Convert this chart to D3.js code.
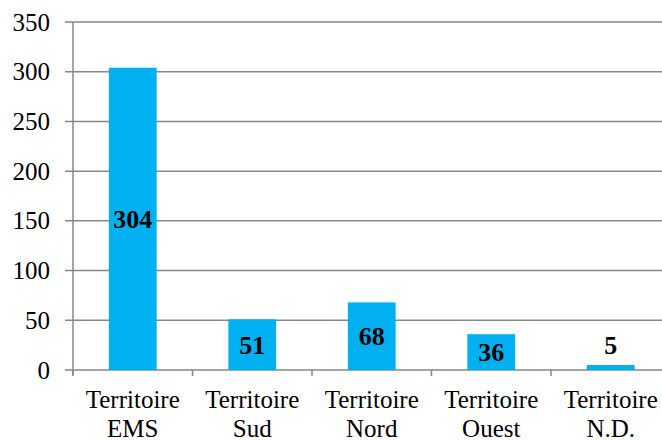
<!DOCTYPE html>
<html><head><meta charset="utf-8">
<script src="https://cdn.jsdelivr.net/npm/d3@7"></script>
<style>body{margin:0;background:#fff}svg{display:block}</style>
</head><body><svg id="c" width="662" height="441"></svg>
<script>
const categories = [["Territoire","EMS"],["Territoire","Sud"],["Territoire","Nord"],["Territoire","Ouest"],["Territoire","N.D."]];
const values = [304, 51, 68, 36, 5];
const yTicks = [0, 50, 100, 150, 200, 250, 300, 350];

(function(){
const FONT = "'Liberation Serif', 'Times New Roman', 'DejaVu Serif', serif";
const svg = d3.select("#c").attr("font-family", FONT);
const mLeft = 73, mRight = 670.5, mTop = 22, mBottom = 370;
const x = d3.scaleBand().domain(d3.range(values.length)).range([mLeft, mRight]).paddingInner(0.6).paddingOuter(0.3);
const y = d3.scaleLinear().domain([0, 350]).range([mBottom, mTop]);
const grey = "#878787";

svg.append("g").selectAll("line").data(yTicks).join("line")
  .attr("x1", 65).attr("x2", 662).attr("y1", d => y(d)).attr("y2", d => y(d))
  .attr("stroke", grey).attr("stroke-width", 1.5);
svg.append("g").selectAll("text").data(yTicks).join("text")
  .attr("x", 50).attr("y", d => y(d)).attr("dy", "0.34em").attr("text-anchor", "end")
  .attr("font-family", FONT).attr("font-size", 25).attr("fill", "#000").text(d => d);

svg.append("line").attr("x1", mLeft).attr("x2", mLeft).attr("y1", mTop).attr("y2", mBottom + 5)
  .attr("stroke", grey).attr("stroke-width", 1.5);
const bounds = d3.range(values.length + 1).map(i => mLeft + i * (mRight - mLeft) / values.length);
svg.append("g").selectAll("line").data(bounds).join("line")
  .attr("x1", d => d).attr("x2", d => d).attr("y1", mBottom).attr("y2", mBottom + 6)
  .attr("stroke", grey).attr("stroke-width", 1.5);

svg.append("g").selectAll("rect").data(values).join("rect")
  .attr("x", (d, i) => x(i)).attr("width", x.bandwidth())
  .attr("y", d => y(d)).attr("height", d => mBottom - y(d))
  .attr("fill", "#00B0F0");

svg.append("g").selectAll("text").data(values).join("text")
  .attr("x", (d, i) => x(i) + x.bandwidth() / 2)
  .attr("y", d => { const h = mBottom - y(d); return h > 30 ? (y(d) + mBottom) / 2 : y(d) - 20; })
  .attr("dy", "0.35em").attr("text-anchor", "middle")
  .attr("font-family", FONT).attr("font-size", 26).attr("font-weight", "bold").attr("fill", "#000").text(d => d);

const cl = svg.append("g").selectAll("text").data(categories).join("text")
  .attr("text-anchor", "middle").attr("font-family", FONT).attr("font-size", 25).attr("fill", "#000");
cl.each(function(d, i) {
  const cx = x(i) + x.bandwidth() / 2;
  d3.select(this).selectAll("tspan").data(d).join("tspan")
    .attr("x", cx).attr("y", (t, j) => 408 + j * 29).text(t => t);
});
})();
</script></body></html>
